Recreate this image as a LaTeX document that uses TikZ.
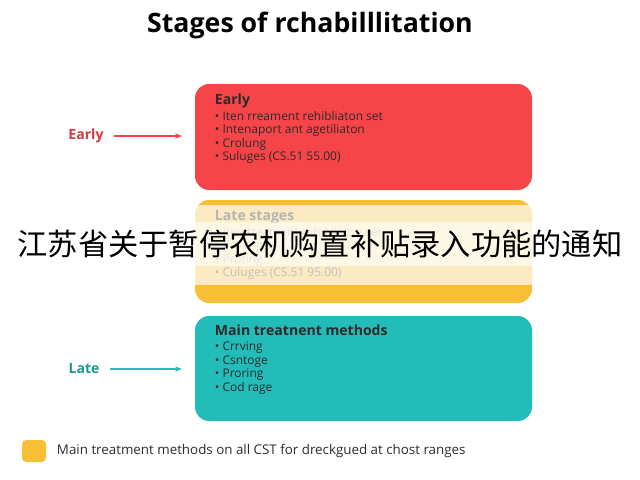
\documentclass[tikz,border=0pt]{standalone}
\usepackage{fontspec}
\setmainfont{Open Sans}
\newfontfamily\cjk{Noto Sans CJK SC}
\usepackage{xcolor}
\usetikzlibrary{arrows.meta}
\definecolor{earlyred}{HTML}{F54548}
\definecolor{lateyel}{HTML}{F8BE35}
\definecolor{mainteal}{HTML}{22BDB8}
\definecolor{darktext}{HTML}{2B2B2B}
\tikzset{
  stage/.style={rectangle, rounded corners=10pt, inner sep=0pt},
  items/.style={anchor=north west, align=left, font=\fontsize{8.5}{9.6}\selectfont, text=darktext},
  head/.style={anchor=north west, font=\fontsize{10}{12}\selectfont\bfseries, text=darktext},
  side/.style={font=\fontsize{10}{12}\selectfont\bfseries}
}
\begin{document}
\begin{tikzpicture}[x=0.025cm, y=-0.025cm, >={Stealth[length=5pt]}]
\useasboundingbox (0,0) rectangle (640,480);
\node (title) at (310,25) {\fontsize{19}{23}\selectfont\bfseries Stages of rchabilllitation};

% stage boxes
\fill[earlyred, stage] (195,84) rectangle (532,190);
\fill[lateyel, stage] (195,200) rectangle (532,303);
\fill[white, opacity=0.7] (195,205) rectangle (532,285);
\fill[mainteal, stage] (195,316) rectangle (532,421);

\node[head] (earlyhead) at (210,89) {Early};
\node[items] (earlylist) at (210,106) {\textbullet\ Iten rreament rehibliaton set\\ \textbullet\ Intenaport ant agetiliaton\\ \textbullet\ Crolung\\ \textbullet\ Suluges (CS.51 55.00)};
\node[head, text=darktext!35] (latehead) at (210,205) {Late stages};
\node[items, text=darktext!30] (latelist) at (210,222) {\textbullet\ Iten treament rehibliaton set\\ \textbullet\ Prolung\\ \textbullet\ Proting:\\ \textbullet\ Culuges (CS.51 95.00)};
\node[head] (mainhead) at (210,320) {Main treatnent methods};
\node[items] (mainlist) at (210,337) {\textbullet\ Crrving\\ \textbullet\ Csntoge\\ \textbullet\ Proring\\ \textbullet\ Cod rage};

% side labels
\node[side, text=earlyred!85!black] (earlylbl) at (86,136) {Early};
\coordinate (earlytip) at (182,136);
\draw[->, earlyred, thick, shorten <=4pt] (earlylbl) -- (earlytip);
\node[side, text=mainteal!80!black] (latelbl) at (84,369) {Late};
\coordinate (latetip) at (182,369);
\draw[->, mainteal, thick, shorten <=4pt] (latelbl) -- (latetip);

% legend
\fill[lateyel, rounded corners=3pt] (22,440) rectangle (46,462);
\node[anchor=west, font=\fontsize{9.5}{11}\selectfont, text=darktext] (legend) at (52,451) {Main treatment methods on all CST for dreckgued at chost ranges};

% banner
\fill[white, opacity=0.6] (0,222) rectangle (640,266);
\node (banner) at (320,244) {\cjk\fontsize{21.5}{24}\selectfont 江苏省关于暂停农机购置补贴录入功能的通知};
\end{tikzpicture}
\end{document}
